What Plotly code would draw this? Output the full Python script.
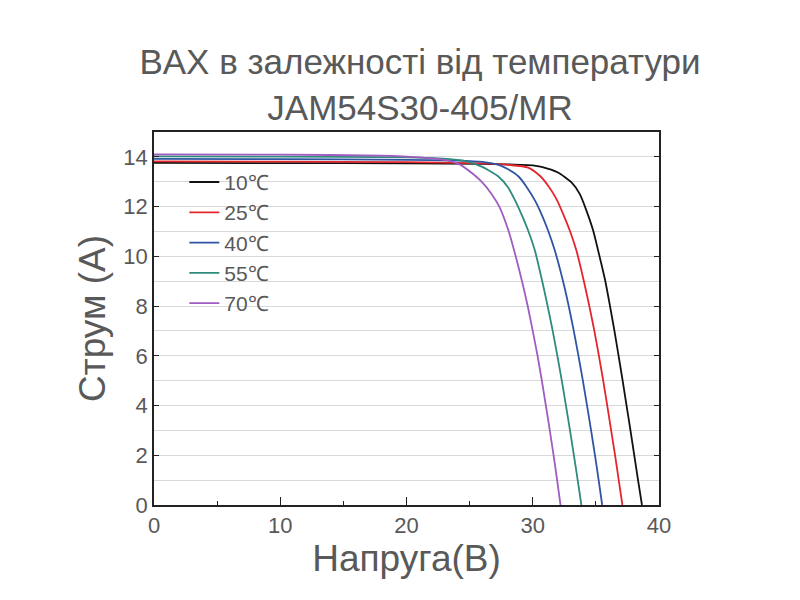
import plotly.graph_objects as go

# ---- data ----
labels = ["10℃", "25℃", "40℃", "55℃", "70℃"]
colors = ["#111111", "#e3262d", "#2f55a4", "#2e8b7d", "#a05cc0"]

v_10 = [0, 10, 20, 26, 28, 30.0, 30.7, 32.0, 33.07, 33.73, 34.26, 34.79, 35.18, 35.75, 36.12, 36.47, 36.8, 37.12, 37.43, 37.74, 38.04, 38.34, 38.65]
i_10 = [13.76, 13.75, 13.74, 13.72, 13.7, 13.66, 13.6, 13.37, 12.97, 12.5, 11.83, 11.03, 10.23, 9.0, 8.0, 7.0, 6.0, 5.0, 4.0, 3.0, 2.0, 1.0, 0.0]

v_25 = [0, 10, 20, 26, 28.05, 29.64, 30.56, 31.22, 31.88, 32.41, 32.94, 33.46, 34.05, 34.48, 34.88, 35.24, 35.58, 35.9, 36.21, 36.52, 36.81, 37.1]
i_25 = [13.82, 13.81, 13.79, 13.74, 13.68, 13.57, 13.24, 12.84, 12.3, 11.7, 11.03, 10.23, 9.0, 8.0, 7.0, 6.0, 5.0, 4.0, 3.0, 2.0, 1.0, 0.0]

v_40 = [0, 10, 20, 24, 26.0, 27.3, 28.05, 28.9, 29.5, 30.17, 30.69, 31.22, 31.75, 32.4, 32.85, 33.25, 33.62, 33.97, 34.3, 34.62, 34.93, 35.22, 35.5]
i_40 = [13.92, 13.91, 13.88, 13.85, 13.8, 13.68, 13.5, 13.2, 12.8, 12.25, 11.7, 11.03, 10.23, 9.0, 8.0, 7.0, 6.0, 5.0, 4.0, 3.0, 2.0, 1.0, 0.0]

v_55 = [0, 10, 20, 22.5, 24.5, 26.0, 27.3, 28.05, 28.6, 29.1, 29.64, 30.17, 30.75, 31.18, 31.58, 31.95, 32.3, 32.63, 32.95, 33.26, 33.56, 33.85]
i_55 = [14.02, 14.01, 13.98, 13.94, 13.85, 13.6, 13.2, 12.77, 12.25, 11.7, 11.03, 10.23, 9.0, 8.0, 7.0, 6.0, 5.0, 4.0, 3.0, 2.0, 1.0, 0.0]

v_70 = [0, 10, 18, 21, 23.0, 24.2, 25.3, 25.95, 26.75, 27.35, 28.1, 28.65, 29.15, 29.6, 30.0, 30.38, 30.72, 31.04, 31.35, 31.65, 31.93, 32.2]
i_70 = [14.1, 14.09, 14.05, 13.98, 13.88, 13.7, 13.3, 13.0, 12.5, 12.0, 11.0, 10.0, 9.0, 8.0, 7.0, 6.0, 5.0, 4.0, 3.0, 2.0, 1.0, 0.0]

volts = [v_10, v_25, v_40, v_55, v_70]
amps = [i_10, i_25, i_40, i_55, i_70]

x_ticks = [0, 10, 20, 30, 40]
y_ticks = [0, 2, 4, 6, 8, 10, 12, 14]

FONT = "Liberation Sans, Arial, sans-serif"
GRAY = "#595959"

fig = go.Figure()
for lab, col, vx, iy in zip(labels, colors, volts, amps):
    fig.add_trace(go.Scatter(x=vx, y=iy, mode="lines", name=lab,
                             line=dict(color=col, width=1.8, shape="spline", smoothing=0.6)))

fig.update_layout(
    width=800, height=600,
    paper_bgcolor="white", plot_bgcolor="white",
    margin=dict(l=146, r=149, t=124, b=103),
    font=dict(family=FONT, color=GRAY),
    title=dict(text="BAX в залежності від температури<br>JAM54S30-405/MR",
               x=412/800, xref="container", xanchor="center",
               y=1 - 66/600, yref="container", yanchor="top",
               font=dict(size=35, color=GRAY, family=FONT)),
    showlegend=True,
    legend=dict(x=0.06, y=0.92, xanchor="left", yanchor="top",
                bgcolor="rgba(0,0,0,0)", font=dict(size=21, color=GRAY),
                tracegroupgap=0),
)
fig.update_xaxes(range=[0, 40], tickvals=x_ticks, showgrid=False, zeroline=False,
                 showline=True, linecolor="#222222", linewidth=1.5, mirror=True,
                 ticks="inside", ticklen=8, tickcolor="#222222",
                 minor=dict(dtick=5, ticks="inside", ticklen=4, tickcolor="#222222"),
                 tickfont=dict(size=22, color=GRAY),
                 title=dict(text="Напруга(B)", font=dict(size=37, color=GRAY), standoff=6))
fig.update_yaxes(range=[0, 15], tickvals=y_ticks, showgrid=True, gridcolor="#d9d9d9",
                 gridwidth=1, zeroline=False,
                 showline=True, linecolor="#222222", linewidth=1.5, mirror="ticks",
                 ticks="inside", ticklen=5, tickcolor="#222222",
                 minor=dict(dtick=1, showgrid=True, gridcolor="#d9d9d9", gridwidth=1),
                 tickfont=dict(size=22, color=GRAY),
                 title=dict(text="Струм (A)", font=dict(size=37, color=GRAY), standoff=6))

fig.write_html("out.html")
